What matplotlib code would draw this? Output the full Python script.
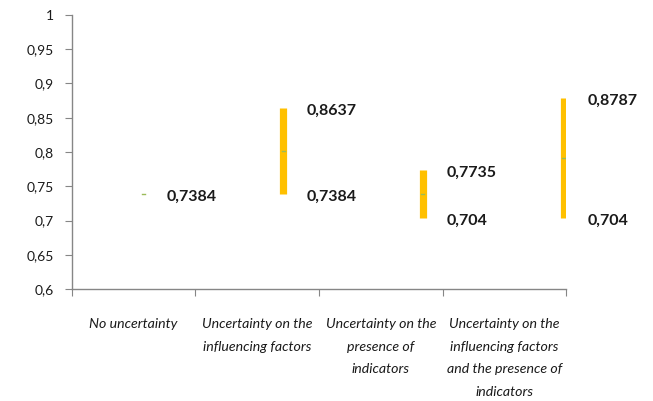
import matplotlib
matplotlib.use("Agg")
import matplotlib.pyplot as plt
from matplotlib.ticker import FuncFormatter, FixedLocator

categories = ["No uncertainty",
              "Uncertainty on the\ninfluencing factors",
              "Uncertainty on the\npresence of\nindicators",
              "Uncertainty on the\ninfluencing factors\nand the presence of\nindicators"]
low = [0.7384, 0.7384, 0.704, 0.704]
high = [0.7384, 0.8637, 0.7735, 0.8787]
low_labels = ["", "0,7384", "0,704", "0,704"]
high_labels = ["0,7384", "0,8637", "0,7735", "0,8787"]
yticks = [0.6, 0.65, 0.7, 0.75, 0.8, 0.85, 0.9, 0.95, 1.0]

# layout: bar x positions (in category units, boundaries at 0..4)
bar_x = [0.58, 1.71, 2.84, 3.98]

plt.rcParams['font.family'] = ['Lato', 'DejaVu Sans']
fig = plt.figure(figsize=(6.53, 4.01), dpi=100)
ax = fig.add_axes([0.110, 0.279, 0.757, 0.684])

for x, lo, hi in zip(bar_x, low, high):
    if hi > lo:
        ax.plot([x, x], [lo, hi], color="#FFC000", lw=5.2, solid_capstyle="butt", zorder=2)
    mid = (lo + hi) / 2
    ax.plot([x - 0.012, x + 0.012], [mid, mid], color="#9BBB59", lw=1, zorder=3)

for i, (x, lo, hi) in enumerate(zip(bar_x, low, high)):
    ax.annotate(high_labels[i], xy=(x, hi), xytext=(17, -2), textcoords="offset points",
                ha="left", va="center", fontsize=11.5, fontweight="bold", color="#1a1a1a")
    if low_labels[i]:
        ax.annotate(low_labels[i], xy=(x, lo), xytext=(17, -2), textcoords="offset points",
                    ha="left", va="center", fontsize=11.5, fontweight="bold", color="#1a1a1a")

ax.set_xlim(0, 4)
ax.set_ylim(0.6, 1.0)
ax.yaxis.set_major_locator(FixedLocator(yticks))
ax.yaxis.set_major_formatter(FuncFormatter(lambda v, p: ("%g" % round(v, 2)).replace(".", ",")))
ax.set_xticks([0, 1, 2, 3, 4])
ax.set_xticklabels([])
for i, c in enumerate(categories):
    ax.text(i + 0.5, -0.105, c, transform=ax.get_xaxis_transform(), ha="center", va="top",
            fontsize=10.2, style="italic", color="#1a1a1a", linespacing=2.07)

for s in ["top", "right"]:
    ax.spines[s].set_visible(False)
for s in ["left", "bottom"]:
    ax.spines[s].set_color("#868686")
    ax.spines[s].set_linewidth(1)
ax.tick_params(axis="y", direction="out", length=5, color="#868686", labelsize=10,
               labelcolor="#1a1a1a", pad=8)
ax.tick_params(axis="x", direction="out", length=5, color="#868686")

fig.savefig("out.png", dpi=100)
